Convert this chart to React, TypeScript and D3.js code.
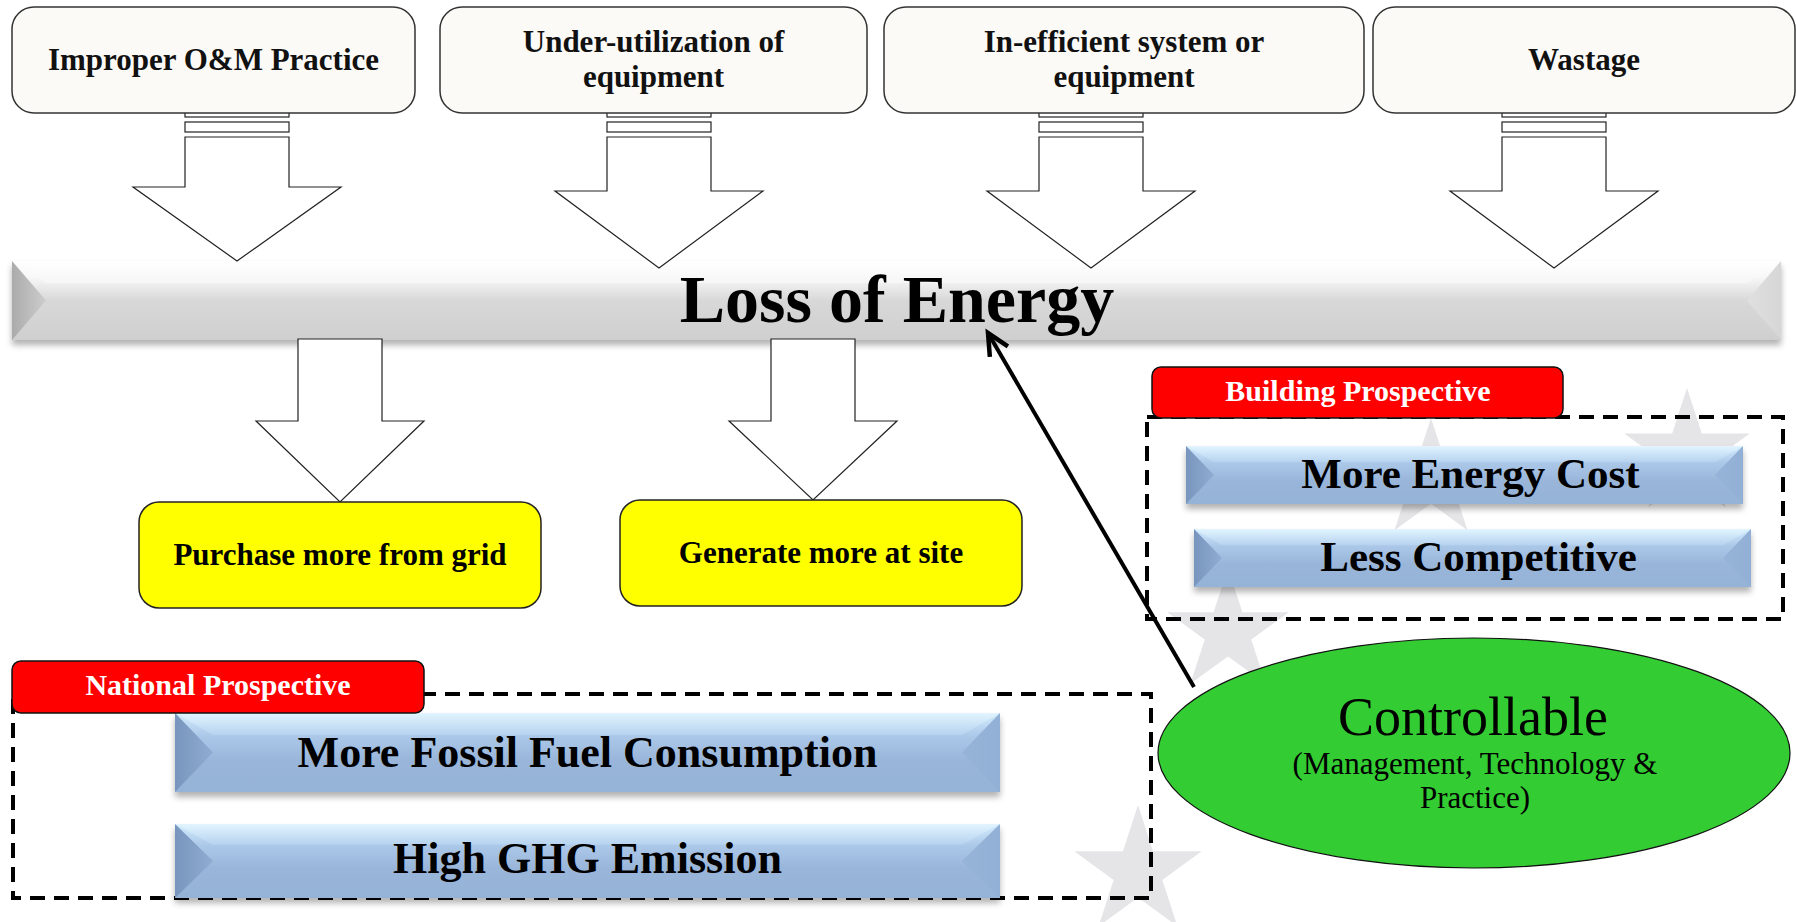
import * as d3 from 'd3'
import React from 'react'

// diagram content
const causes = [['Improper O&M Practice'], ['Under-utilization of', 'equipment'], ['In-efficient system or', 'equipment'], ['Wastage']]
const centerLabel = 'Loss of Energy'
const outcomes = ['Purchase more from grid', 'Generate more at site']
const perspectives = ['National Prospective', 'Building Prospective']
const nationalEffects = ['More Fossil Fuel Consumption', 'High GHG Emission']
const buildingEffects = ['More Energy Cost', 'Less Competitive']
const controlTitle = 'Controllable'
const controlNote = ['(Management, Technology &', 'Practice)']

// layout
const W = 1796, H = 922
const FONT = "'Liberation Serif', 'Times New Roman', serif"
const causeBoxX = [[12, 415], [440, 867], [884, 1364], [1373, 1795]]
const causeArrowX = [237, 659, 1091, 1554]
const causeArrowBase = [187, 191, 191, 191]
const causeArrowTip = [261, 268, 268, 268]
const outcomeBoxes = [[139, 502, 541, 608], [620, 500, 1022, 606]]
const outcomeArrowX = [340, 813]
const nationalBars = [[175, 713, 1000, 792], [175, 824, 1000, 898]]
const buildingBars = [[1186, 446, 1743, 504], [1194, 529, 1751, 587]]
const stars = [[1431, 480, 62], [1687, 454, 66], [1228, 632, 64], [1138, 872, 67]]

const line = d3.line()

const downArrow = (cx: number, shaftHalf: number, headHalf: number, top: number, base: number, tip: number) =>
  line([[cx - shaftHalf, top], [cx + shaftHalf, top], [cx + shaftHalf, base], [cx + headHalf, base], [cx, tip],
    [cx - headHalf, base], [cx - shaftHalf, base]])! + 'Z'

const BevelBar = ({ x0, y0, x1, y1, inset, face, left, right, top }: any) => {
  const h = y1 - y0, w = x1 - x0
  return (
    <g filter='url(#shadow)'>
      <rect x={x0} y={y0} width={w} height={h} fill={`url(#${face})`} />
      <path d={line([[x0, y0], [x1, y0], [x1 - inset, y0 + h * 0.28], [x0 + inset, y0 + h * 0.28]])! + 'Z'} fill={`url(#${top})`} />
      <path d={line([[x0, y0], [x0 + inset, y0 + h / 2], [x0, y1]])! + 'Z'} fill={`url(#${left})`} />
      <path d={line([[x1, y0], [x1 - inset, y0 + h / 2], [x1, y1]])! + 'Z'} fill={`url(#${right})`} />
    </g>
  )
}

export default function App() {
  React.useLayoutEffect(() => { document.body.style.margin = '0' }, [])

  const star = d3.symbol().type(d3.symbolStar)
  const ctrlFrom: [number, number] = [1194, 687], ctrlTo: [number, number] = [988, 333]
  const ang = Math.atan2(ctrlFrom[1] - ctrlTo[1], ctrlFrom[0] - ctrlTo[0])
  const headLen = 24, spread = 0.45
  const headPts: [number, number][] = [
    [ctrlTo[0] + headLen * Math.cos(ang - spread), ctrlTo[1] + headLen * Math.sin(ang - spread)],
    ctrlTo,
    [ctrlTo[0] + headLen * Math.cos(ang + spread), ctrlTo[1] + headLen * Math.sin(ang + spread)],
  ]

  return (
    <svg width={W} height={H} style={{ display: 'block', position: 'absolute', left: 0, top: 0, background: '#fff' }} fontFamily={FONT}>
      <defs>
        <filter id='shadow' x='-5%' y='-20%' width='110%' height='160%'>
          <feDropShadow dx='0' dy='5' stdDeviation='3' floodColor='#000' floodOpacity='0.3' />
        </filter>
        <linearGradient id='grayFace' x1='0' y1='0' x2='0' y2='1'>
          <stop offset='0' stopColor='#ffffff' />
          <stop offset='0.2' stopColor='#f8f8f8' />
          <stop offset='0.5' stopColor='#d8d8d8' />
          <stop offset='1' stopColor='#cfcfcf' />
        </linearGradient>
        <linearGradient id='grayTop' x1='0' y1='0' x2='0' y2='1'>
          <stop offset='0' stopColor='#ffffff' />
          <stop offset='1' stopColor='#f6f6f6' />
        </linearGradient>
        <linearGradient id='grayLeft' x1='0' y1='0' x2='1' y2='0'>
          <stop offset='0' stopColor='#ababab' />
          <stop offset='1' stopColor='#cdcdcd' />
        </linearGradient>
        <linearGradient id='grayRight' x1='1' y1='0' x2='0' y2='0'>
          <stop offset='0' stopColor='#d6d6d6' />
          <stop offset='1' stopColor='#e0e0e0' />
        </linearGradient>
        <linearGradient id='blueFace' x1='0' y1='0' x2='0' y2='1'>
          <stop offset='0' stopColor='#d2ecfd' />
          <stop offset='0.3' stopColor='#abc7e8' />
          <stop offset='0.6' stopColor='#99b6da' />
          <stop offset='1' stopColor='#95b2d7' />
        </linearGradient>
        <linearGradient id='blueTop' x1='0' y1='0' x2='0' y2='1'>
          <stop offset='0' stopColor='#e2f5ff' />
          <stop offset='1' stopColor='#b6d2ef' />
        </linearGradient>
        <linearGradient id='blueLeft' x1='0' y1='0' x2='1' y2='0'>
          <stop offset='0' stopColor='#7895bd' />
          <stop offset='1' stopColor='#90acd2' />
        </linearGradient>
        <linearGradient id='blueRight' x1='1' y1='0' x2='0' y2='0'>
          <stop offset='0' stopColor='#92afd5' />
          <stop offset='1' stopColor='#96b3d8' />
        </linearGradient>
      </defs>

      {/* background stars */}
      {stars.map(([x, y, r], i) => (
        <path key={i} d={star.size((r * r) / 0.8908130915292852)()!} transform={`translate(${x},${y})`} fill='#e5e5e8' />
      ))}

      {/* cause arrows (striped tails) */}
      {causeArrowX.map((cx, i) => (
        <g key={i} fill='#fff' stroke='#222' strokeWidth={1.2}>
          <rect x={cx - 52} y={111} width={104} height={6} />
          <rect x={cx - 52} y={122} width={104} height={10} />
        </g>
      ))}

      {/* cause boxes */}
      {causes.map((lines, i) => {
        const [x0, x1] = causeBoxX[i], cx = (x0 + x1) / 2
        const baselines = lines.length === 1 ? [70] : [52, 87]
        return (
          <g key={i}>
            <rect x={x0} y={7} width={x1 - x0} height={106} rx={22} fill='#fbfaf7' stroke='#333' strokeWidth={1.5} />
            {lines.map((t, j) => (
              <text key={j} x={cx} y={baselines[j]} textAnchor='middle' fontWeight='bold' fontSize={31} fill='#111'>{t}</text>
            ))}
          </g>
        )
      })}

      {/* central bar */}
      <BevelBar x0={12} y0={261} x1={1781} y1={340} inset={34} face='grayFace' top='grayTop' left='grayLeft' right='grayRight' />
      <text x={897} y={322} textAnchor='middle' fontWeight='bold' fontSize={68} fill='#000'>{centerLabel}</text>

      {causeArrowX.map((cx, i) => (
        <path key={i} d={downArrow(cx, 52, 104, 137, causeArrowBase[i], causeArrowTip[i])} fill='#fff' stroke='#222' strokeWidth={1.2} />
      ))}

      {/* outcome arrows and boxes */}
      {outcomeArrowX.map((cx, i) => (
        <path key={i} d={downArrow(cx, 42, 84, 339, 421, outcomeBoxes[i][1])} fill='#fff' stroke='#222' strokeWidth={1.2} />
      ))}
      {outcomes.map((t, i) => {
        const [x0, y0, x1, y1] = outcomeBoxes[i]
        return (
          <g key={i}>
            <rect x={x0} y={y0} width={x1 - x0} height={y1 - y0} rx={20} fill='#ffff00' stroke='#222' strokeWidth={1.5} />
            <text x={(x0 + x1) / 2} y={y0 + 63} textAnchor='middle' fontWeight='bold' fontSize={31} fill='#000'>{t}</text>
          </g>
        )
      })}

      {/* building perspective */}
      <rect x={1147} y={417} width={636} height={202} fill='none' stroke='#000' strokeWidth={4} strokeDasharray='15 9' />
      {buildingEffects.map((t, i) => {
        const [x0, y0, x1, y1] = buildingBars[i]
        return (
          <g key={i}>
            <BevelBar x0={x0} y0={y0} x1={x1} y1={y1} inset={28} face='blueFace' top='blueTop' left='blueLeft' right='blueRight' />
            <text x={(x0 + x1) / 2 + 6} y={y1 - 16} textAnchor='middle' fontWeight='bold' fontSize={43} fill='#000'>{t}</text>
          </g>
        )
      })}
      <rect x={1152} y={367} width={411} height={51} rx={9} fill='#ff0000' stroke='#111' strokeWidth={1.5} />
      <text x={1358} y={401} textAnchor='middle' fontWeight='bold' fontSize={30} fill='#fff'>{perspectives[1]}</text>

      {/* national perspective */}
      <rect x={13} y={694} width={1138} height={204} fill='none' stroke='#000' strokeWidth={4} strokeDasharray='15 9' />
      {nationalEffects.map((t, i) => {
        const [x0, y0, x1, y1] = nationalBars[i]
        return (
          <g key={i}>
            <BevelBar x0={x0} y0={y0} x1={x1} y1={y1} inset={38} face='blueFace' top='blueTop' left='blueLeft' right='blueRight' />
            <text x={(x0 + x1) / 2} y={y1 - 25} textAnchor='middle' fontWeight='bold' fontSize={44} fill='#000'>{t}</text>
          </g>
        )
      })}
      <rect x={12} y={661} width={412} height={52} rx={9} fill='#ff0000' stroke='#111' strokeWidth={1.5} />
      <text x={218} y={695} textAnchor='middle' fontWeight='bold' fontSize={30} fill='#fff'>{perspectives[0]}</text>

      {/* controllable */}
      <path d={line([ctrlFrom, ctrlTo])!} stroke='#000' strokeWidth={4} fill='none' />
      <path d={line(headPts)!} stroke='#000' strokeWidth={4.5} fill='none' strokeLinejoin='miter' />
      <ellipse cx={1474} cy={753} rx={316} ry={115} fill='#33cc33' stroke='#111' strokeWidth={1.2} />
      <text x={1473} y={735} textAnchor='middle' fontSize={54} fill='#000'>{controlTitle}</text>
      {controlNote.map((t, i) => (
        <text key={i} x={1475} y={774 + i * 34} textAnchor='middle' fontSize={31} fill='#000'>{t}</text>
      ))}
    </svg>
  )
}
